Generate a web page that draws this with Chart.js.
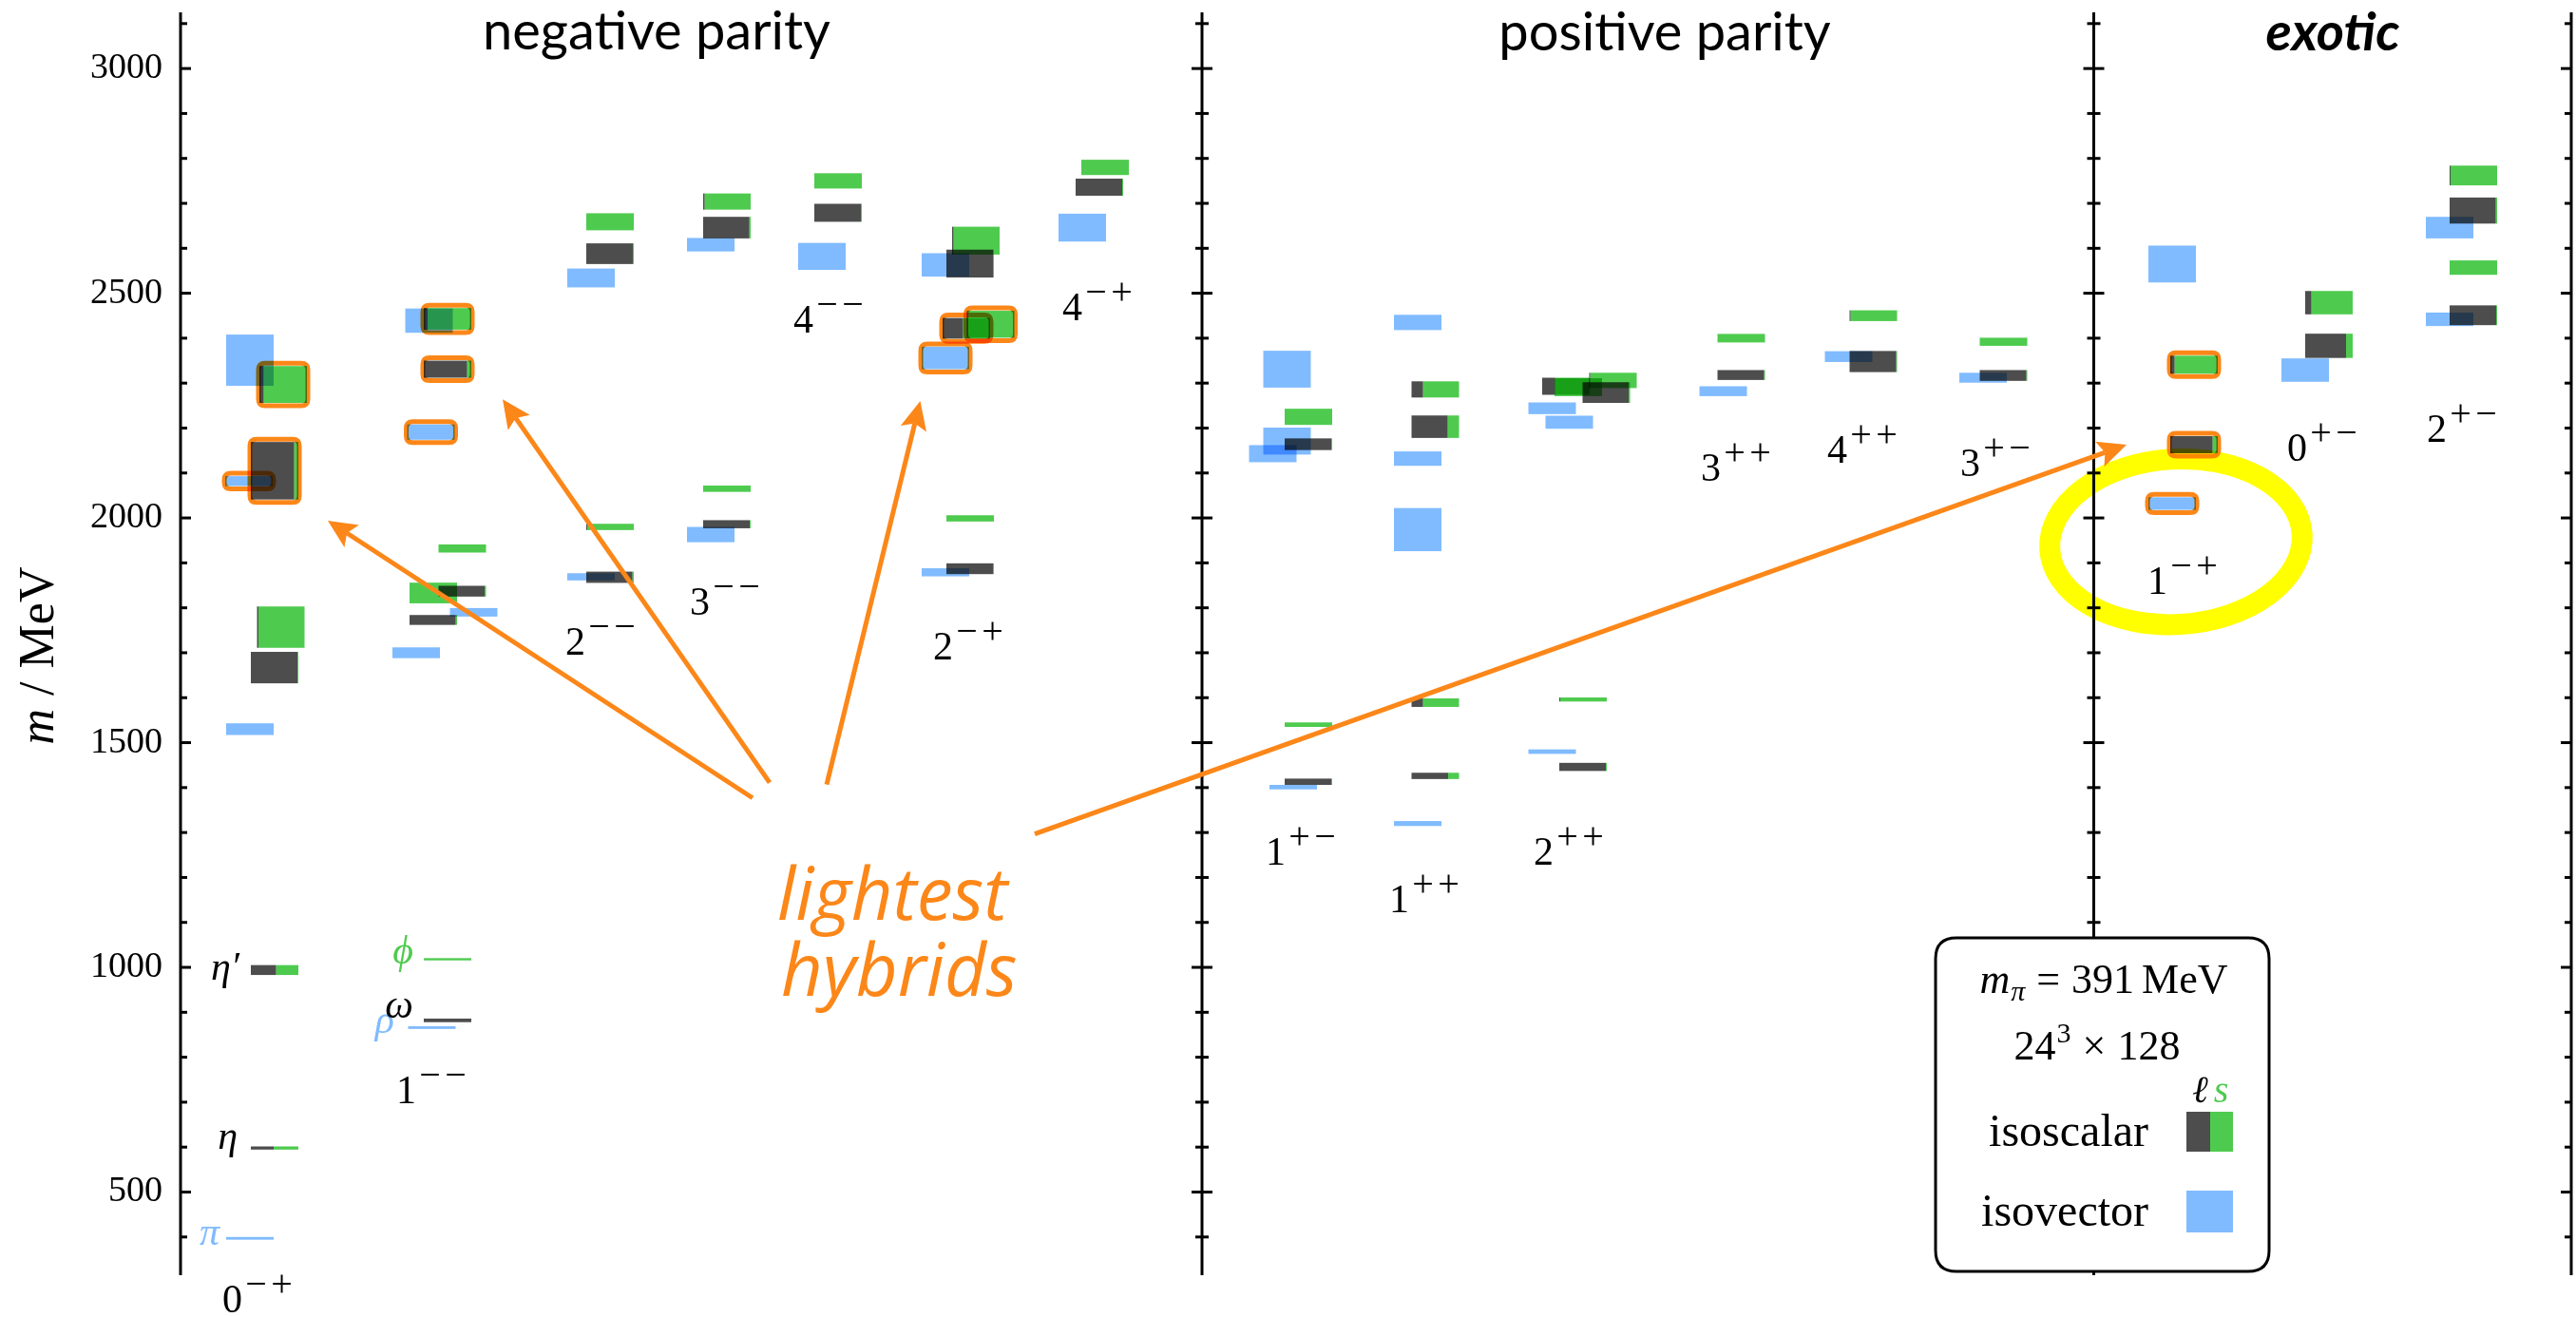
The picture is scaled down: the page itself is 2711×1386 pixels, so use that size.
<!DOCTYPE html>
<html>
<head>
<meta charset="utf-8">
<script src="https://cdn.jsdelivr.net/npm/chart.js@4.4.1/dist/chart.umd.min.js"></script>
<style>
  html, body { margin: 0; padding: 0; background: #fff; }
</style>
</head>
<body>
<canvas id="spec" width="2711" height="1386"></canvas>
<script>
// --- axis ranges ---
const massMin = 315, massMax = 3125;
const slotMax = 50.32;              // horizontal extent, in box-width units
const majorTicks = [500, 1000, 1500, 2000, 2500, 3000];

// --- isovector levels (light blue): slot, mass (MeV), half band (MeV) ---
const ivSlot = [1.46, 1.46, 1.44, 1.46,  5.29, 4.96, 6.17, 5.27, 5.23,  8.64, 8.64,  11.16, 11.16,  13.50,
                16.10, 16.10, 16.10,  18.98,  23.42, 22.99, 23.29, 23.29,  26.04, 26.04, 26.04, 26.04,
                28.87, 29.23, 28.87,  32.47,  35.11,  37.94,  41.92, 41.92,  44.72,  47.76, 47.76];
const ivMass = [397, 1530, 2082, 2351,  866, 1700, 1790, 2191, 2439,  1869, 2534,  1963, 2608,  2582,
                1879, 2356, 2563,  2646,  1401, 2143, 2171, 2331,  1320, 1974, 2132, 2435,
                1480, 2213, 2244,  2282,  2359,  2312,  2032, 2565,  2329,  2442, 2646];
const ivErr = [3, 13, 11, 57,  3, 12, 9.5, 17, 27,  8, 21,  17, 15,  30,
               9, 25, 26,  31,  5, 19, 30, 41,  5.5, 48, 16, 17,
               5, 14.5, 13,  11,  12,  11,  14, 41,  26,  15, 24];
const ivHybrid = [0, 0, 1, 0,  0, 0, 0, 1, 0,  0, 0,  0, 0,  0,
                  0, 1, 0,  0,  0, 0, 0, 0,  0, 0, 0, 0,
                  0, 0, 0,  0,  0,  0,  1, 0,  0,  0, 0];

// --- isoscalar levels: slot, mass, half band, light-quark fraction (rest is strange) ---
const isSlot = [1.98, 1.98, 1.98, 2.11, 1.98, 2.16,  5.62, 5.62, 5.32, 5.32, 5.93, 5.93, 5.62, 5.62,
                9.04, 9.04, 9.04, 9.04,  11.50, 11.50, 11.50, 11.50,  13.84, 13.84,
                16.62, 16.62, 16.54, 17.05, 16.62, 16.74,  19.34, 19.46,
                23.74, 23.74, 23.74, 23.74,  26.41, 26.41, 26.41, 26.41,
                29.52, 29.52, 29.16, 29.42, 30.01, 30.15,  32.85, 32.85,  35.63, 35.63,  38.37, 38.37,
                42.38, 42.38,  45.22, 45.22,  48.26, 48.26, 48.26, 48.26];
const isMass = [598, 994, 1667, 1757, 2105, 2297,  882, 1018, 1773, 1833, 1837, 1932, 2331, 2443,
                1868, 1980, 2588, 2659,  1986, 2065, 2646, 2704,  2679, 2750,
                1887, 1999, 2422, 2431, 2566, 2617,  2736, 2780,
                1413, 1540, 2164, 2225,  1426, 1589, 2203, 2286,
                1446, 1596, 2293, 2291, 2279, 2306,  2318, 2400,  2348, 2450,  2317, 2392,
                2163, 2341,  2383, 2479,  2451, 2557, 2684, 2762];
const isErr = [3.5, 11, 35, 46, 64, 41,  4, 2.5, 11, 23, 12, 9, 19, 24,
               12.5, 7, 23, 19,  9, 7, 24, 18,  20, 17,
               12, 7, 23, 30, 31, 31,  19, 17,
               7, 5, 13, 18,  7, 9.5, 25, 18,
               9, 4.5, 19, 20, 23, 17,  11, 9.5,  23.5, 12,  12, 9,
               19, 20,  27, 26,  22, 16, 29, 22];
const isLight = [0.48, 0.53, 0.98, 0.03, 0.91, 0.09,  1, 0, 0.97, 0, 0.97, 0, 0.91, 0.08,
                 0.97, 0.02, 0.98, 0,  0.98, 0, 0.97, 0.03,  0.98, 0,
                 0.98, 0, 0.43, 0.02, 0.98, 0.03,  0.98, 0,
                 0.98, 0, 0.98, 0,  0.77, 0.24, 0.76, 0.24,
                 0.98, 0.02, 0.27, 0, 0.97, 0.02,  0.98, 0,  0.98, 0.02,  0.98, 0,
                 0.89, 0.09,  0.86, 0.13,  0.98, 0, 0.97, 0.02];
const isHybrid = [0, 0, 0, 0, 1, 1,  0, 0, 0, 0, 0, 0, 1, 1,
                  0, 0, 0, 0,  0, 0, 0, 0,  0, 0,
                  0, 0, 1, 1, 0, 0,  0, 0,
                  0, 0, 0, 0,  0, 0, 0, 0,
                  0, 0, 0, 0, 0, 0,  0, 0,  0, 0,  0, 0,
                  1, 1,  0, 0,  0, 0, 0, 0];

// --- J^PC channel labels ---
const jpcJ  = ['0', '1', '2', '3', '4', '2', '4', '1', '1', '2', '3', '4', '3', '1', '0', '2'];
const jpcPC = ['−+', '−−', '−−', '−−', '−−', '−+', '−+', '+−', '++', '++', '++', '++', '+−', '−+', '+−', '+−'];

// --- named ground states ---
const stateNames = ['π', 'η', 'η′', 'ρ', 'ω', 'ϕ'];

const sectionTitles = ['negative parity', 'positive parity', 'exotic'];

// ---------------- layout (positions in slot / MeV units) ----------------
const dividerSlots = [21.5, 40.27];
const jpcSlot = [0.88, 4.54, 8.10, 10.72, 12.90, 15.84, 18.56, 22.84, 25.44, 28.48, 32.0, 34.66, 37.46, 41.40, 44.34, 47.28];
const jpcMass = [233, 697, 1696, 1785, 2412, 1685, 2440, 1229, 1123, 1229, 2082, 2123, 2093, 1831, 2127, 2169];
const nameSlot = [0.82, 1.20, 1.24, 4.50, 4.90, 4.90];
const nameMass = [382, 597, 973, 855, 887, 1009];
const titleSlot = [10.02, 31.24, 45.3];
// arrows from the "lightest hybrids" note: [tailSlot, tailMass, tipSlot, tipMass]
const arrows = [[12.04, 1377, 3.10, 1994], [12.40, 1411, 6.78, 2264], [13.60, 1407, 15.57, 2260], [17.98, 1297, 40.96, 2163]];

const BLUE = '#80bbff', DARK = '#4d4d4d', GREEN = '#4ecb4e', ORANGE = '#fc8719', YELLOW = '#ffff00';
const SERIF = '"Liberation Serif", "DejaVu Serif", serif';

function roundRect(ctx, x, y, w, h, r) {
  ctx.beginPath();
  ctx.moveTo(x + r, y);
  ctx.lineTo(x + w - r, y); ctx.quadraticCurveTo(x + w, y, x + w, y + r);
  ctx.lineTo(x + w, y + h - r); ctx.quadraticCurveTo(x + w, y + h, x + w - r, y + h);
  ctx.lineTo(x + r, y + h); ctx.quadraticCurveTo(x, y + h, x, y + h - r);
  ctx.lineTo(x, y + r); ctx.quadraticCurveTo(x, y, x + r, y);
  ctx.closePath();
}

// draws pieces [text, font, gapAfter, dy, colour] in sequence starting at x
function runText(ctx, pieces, x, y, align) {
  let total = 0;
  pieces.forEach(p => { ctx.font = p[1]; total += ctx.measureText(p[0]).width + (p[2] || 0); });
  let cx = align === 'center' ? x - total / 2 : (align === 'right' ? x - total : x);
  ctx.textAlign = 'left';
  pieces.forEach(p => {
    ctx.font = p[1];
    if (p[4]) ctx.fillStyle = p[4];
    ctx.fillText(p[0], cx, y + (p[3] || 0));
    cx += ctx.measureText(p[0]).width + (p[2] || 0);
  });
}

const spectrum = {
  id: 'spectrum',
  beforeDraw(chart) {
    const c = chart.ctx;
    c.save(); c.fillStyle = '#fff'; c.fillRect(0, 0, chart.width, chart.height); c.restore();
  },
  afterDraw(chart) {
    const ctx = chart.ctx, xs = chart.scales.x, ys = chart.scales.y, a = chart.chartArea;
    const px = v => xs.getPixelForValue(v), py = v => ys.getPixelForValue(v);
    ctx.save();

    // frame: left axis, dividers, right edge, with ticks
    const vlines = [{x: a.left, l: 0, r: 1}, {x: px(dividerSlots[0]), l: 1, r: 1},
                    {x: px(dividerSlots[1]), l: 1, r: 1}, {x: a.right, l: 1, r: 0}];
    ctx.strokeStyle = '#000';
    ctx.lineWidth = 3;
    vlines.forEach(v => {
      ctx.beginPath(); ctx.moveTo(v.x, a.top); ctx.lineTo(v.x, a.bottom); ctx.stroke();
      for (let m = 400; m <= 3100; m += 100) {
        const len = majorTicks.includes(m) ? 11 : 7, y = py(m);
        ctx.beginPath(); ctx.moveTo(v.x - len * v.l, y); ctx.lineTo(v.x + len * v.r, y); ctx.stroke();
      }
    });

    // level boxes
    ctx.globalCompositeOperation = 'multiply';
    ivSlot.forEach((s, i) => {
      const x0 = px(s - 0.5), x1 = px(s + 0.5), y0 = py(ivMass[i] + ivErr[i]), y1 = py(ivMass[i] - ivErr[i]);
      ctx.fillStyle = BLUE; ctx.fillRect(x0, y0, x1 - x0, y1 - y0);
    });
    isSlot.forEach((s, i) => {
      const x0 = px(s - 0.5), x1 = px(s + 0.5), y0 = py(isMass[i] + isErr[i]), y1 = py(isMass[i] - isErr[i]);
      const xm = x0 + (x1 - x0) * isLight[i];
      if (isLight[i] > 0) { ctx.fillStyle = DARK; ctx.fillRect(x0, y0, xm - x0, y1 - y0); }
      if (isLight[i] < 1) { ctx.fillStyle = GREEN; ctx.fillRect(xm, y0, x1 - xm, y1 - y0); }
    });

    // hybrid candidates outlined
    ctx.strokeStyle = ORANGE; ctx.lineWidth = 5;
    const outline = (s, m, e) => {
      const x0 = px(s - 0.5) - 1, x1 = px(s + 0.5) + 1, y0 = py(m + e) - 3, y1 = py(m - e) + 3;
      roundRect(ctx, x0, y0, x1 - x0, y1 - y0, 7); ctx.stroke();
    };
    ivSlot.forEach((s, i) => { if (ivHybrid[i]) outline(s, ivMass[i], ivErr[i]); });
    isSlot.forEach((s, i) => { if (isHybrid[i]) outline(s, isMass[i], isErr[i]); });

    // yellow ring around the exotic 1-+
    ctx.strokeStyle = YELLOW; ctx.lineWidth = 22;
    ctx.beginPath();
    ctx.ellipse(px(42.0), py(1947), px(42.0 + 2.66) - px(42.0), py(1947) - py(1947 + 184), -0.06, 0, Math.PI * 2);
    ctx.stroke();

    // arrows
    ctx.globalCompositeOperation = 'source-over';
    ctx.strokeStyle = ORANGE; ctx.fillStyle = ORANGE; ctx.lineWidth = 5;
    arrows.forEach(ar => {
      const x0 = px(ar[0]), y0 = py(ar[1]), x1 = px(ar[2]), y1 = py(ar[3]);
      const ang = Math.atan2(y1 - y0, x1 - x0), L = 30, H = 14;
      const bx = x1 - L * Math.cos(ang), by = y1 - L * Math.sin(ang);
      ctx.beginPath(); ctx.moveTo(x0, y0); ctx.lineTo(bx + 6 * Math.cos(ang), by + 6 * Math.sin(ang)); ctx.stroke();
      ctx.beginPath();
      ctx.moveTo(x1, y1);
      ctx.lineTo(bx - H * Math.sin(ang), by + H * Math.cos(ang));
      ctx.lineTo(bx + 6 * Math.cos(ang), by + 6 * Math.sin(ang));
      ctx.lineTo(bx + H * Math.sin(ang), by - H * Math.cos(ang));
      ctx.closePath(); ctx.fill();
    });

    // note text
    ctx.fillStyle = ORANGE; ctx.textAlign = 'left'; ctx.textBaseline = 'alphabetic';
    ctx.font = 'italic 76px "Open Sans"';
    ctx.fillText('lightest', 818, 968);
    ctx.fillText('hybrids', 822, 1048);

    // section titles
    ctx.fillStyle = '#000'; ctx.textAlign = 'center';
    ctx.font = '56px Lato';
    ctx.fillText(sectionTitles[0], px(titleSlot[0]), 52);
    ctx.fillText(sectionTitles[1], px(titleSlot[1]), 53);
    ctx.font = 'italic bold 56px Lato';
    ctx.fillText(sectionTitles[2], px(titleSlot[2]), 53);

    // J^PC labels
    ctx.fillStyle = '#000';
    jpcJ.forEach((j, i) => {
      const x = px(jpcSlot[i]), y = py(jpcMass[i]);
      ctx.textAlign = 'left';
      ctx.font = '42px ' + SERIF;
      ctx.fillText(j, x, y);
      let cx = x + ctx.measureText(j).width + 1;
      ctx.font = '40px ' + SERIF;
      for (const ch of jpcPC[i]) {
        const w = ctx.measureText(ch).width;
        ctx.fillText(ch, cx + (27 - w) / 2, y - 17);
        cx += 27;
      }
    });

    // named states
    const nameColor = [BLUE, '#000', '#000', BLUE, '#000', GREEN];
    ctx.textAlign = 'right';
    ctx.font = 'italic 42px ' + SERIF;
    stateNames.forEach((n, i) => {
      ctx.fillStyle = nameColor[i];
      ctx.fillText(n, px(nameSlot[i]), py(nameMass[i]));
    });

    // y-axis title
    ctx.save();
    ctx.translate(56, 690);
    ctx.rotate(-Math.PI / 2);
    ctx.fillStyle = '#000';
    runText(ctx, [['m', 'italic 52px ' + SERIF, 14], ['/', '52px ' + SERIF, 14], ['MeV', '52px ' + SERIF]], 0, 0, 'center');
    ctx.restore();

    // legend box
    ctx.fillStyle = '#fff'; ctx.strokeStyle = '#000'; ctx.lineWidth = 3;
    roundRect(ctx, 2037, 987, 351, 351, 22); ctx.fill(); ctx.stroke();
    ctx.fillStyle = '#000'; ctx.textBaseline = 'alphabetic';
    runText(ctx, [['m', 'italic 44px ' + SERIF, 1], ['π', 'italic 30px ' + SERIF, 12, 8], ['=', '44px ' + SERIF, 12],
                  ['391', '44px ' + SERIF, 8], ['MeV', '44px ' + SERIF]], 2214, 1045, 'center');
    runText(ctx, [['24', '44px ' + SERIF, 1], ['3', '30px ' + SERIF, 12, -18], ['×', '44px ' + SERIF, 12],
                  ['128', '44px ' + SERIF]], 2207, 1115, 'center');
    runText(ctx, [['ℓ', 'italic 40px ' + SERIF, 6, 0, '#000'], ['s', 'italic 40px ' + SERIF, 0, 0, GREEN]], 2307, 1160, 'left');
    ctx.fillStyle = '#000';
    ctx.textAlign = 'right'; ctx.font = '48px ' + SERIF;
    ctx.fillText('isoscalar', 2261, 1206);
    ctx.fillText('isovector', 2261, 1290);
    ctx.fillStyle = DARK; ctx.fillRect(2301, 1170, 25, 42);
    ctx.fillStyle = GREEN; ctx.fillRect(2326, 1170, 24, 42);
    ctx.fillStyle = BLUE; ctx.fillRect(2301, 1253, 49, 44);

    ctx.restore();
  }
};

const minorTicks = [];
for (let m = 400; m <= 3100; m += 100) minorTicks.push(m);

new Chart(document.getElementById('spec'), {
  type: 'scatter',
  data: { datasets: [] },
  options: {
    responsive: false,
    animation: false,
    devicePixelRatio: 1,
    events: [],
    layout: { padding: { left: 0, top: 13, right: 5, bottom: 44 } },
    plugins: { legend: { display: false }, tooltip: { enabled: false } },
    scales: {
      x: { type: 'linear', min: 0, max: slotMax, display: false },
      y: {
        type: 'linear', min: massMin, max: massMax,
        afterFit: s => { s.width = 190; s.paddingTop = 0; s.paddingBottom = 0; },
        afterBuildTicks: s => { s.ticks = minorTicks.map(v => ({ value: v })); },
        grid: { display: false },
        border: { display: false },
        ticks: {
          autoSkip: false, padding: 11, color: '#000',
          font: { family: '"Liberation Serif", serif', size: 38 },
          callback: v => majorTicks.includes(v) ? String(v) : ''
        }
      }
    }
  },
  plugins: [spectrum]
});
</script>
</body>
</html>
